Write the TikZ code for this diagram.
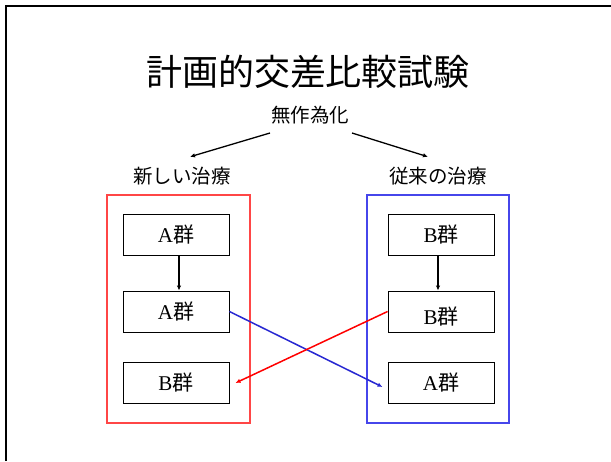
\documentclass[tikz,border=0pt]{standalone}
\usepackage{fontspec}
\setmainfont{Liberation Serif}
\newfontfamily\jp{Noto Sans CJK JP}
\usetikzlibrary{arrows.meta}
\definecolor{boxred}{RGB}{255,70,70}
\definecolor{boxblue}{RGB}{70,70,235}
\definecolor{arrblue}{RGB}{40,40,210}
\tikzset{
  grp/.style={draw=black, line width=0.9pt, minimum width=106pt, minimum height=41pt, inner sep=0pt, font=\fontsize{21}{21}\selectfont},
  outer/.style={line width=1.1pt},
  lbl/.style={font=\jp\fontsize{19.5}{20}\selectfont, inner sep=0pt},
  arr/.style={line width=1.3pt, -{Latex[length=5pt,width=4.5pt]}},
}
\begin{document}
\begin{tikzpicture}[x=1pt,y=-1pt]
\useasboundingbox (0,0) rectangle (611,461);
\fill[white] (0,0) rectangle (611,461);
% slide frame
\draw[line width=2.2pt] (6,461) -- (6,6) -- (611,6);
% title
\node[font=\jp\fontsize{36}{36}\selectfont, inner sep=0pt] (title) at (308,72) {計画的交差比較試験};
\node[lbl] (rand) at (310,115) {無作為化};
\node[lbl] (newt) at (182,176) {新しい治療};
\node[lbl] (oldt) at (438,176) {従来の治療};
% outer boxes
\draw[outer, draw=boxred] (107,195) rectangle (250,423);
\draw[outer, draw=boxblue] (367,195) rectangle (509,423);
% group boxes
\node[grp] (la) at (176,234.5) {A{\jp 群}};
\node[grp] (lb) at (176,311.5) {A{\jp 群}};
\node[grp] (lc) at (176,383) {B{\jp 群}};
\node[grp] (ra) at (441,234.5) {B{\jp 群}};
\node[grp, text height=7pt, text depth=0pt] (rb) at (441,311.5) {\raisebox{-9.5pt}[0pt][0pt]{B{\jp 群}}};
\node[grp] (rc) at (441,383) {A{\jp 群}};
% top arrows
\coordinate (s1) at (270,133);
\coordinate (s2) at (352,133);
\draw[arr] (s1) -- ([shift={(8,-10)}]newt.north);
\draw[arr] (s2) -- ([shift={(-10,-10)}]oldt.north);
% vertical arrows
\draw[arr, line width=1.2pt] ([xshift=3pt]la.south) -- ([xshift=3pt]lb.north);
\draw[arr, line width=1.2pt] ([xshift=-3pt]ra.south) -- ([xshift=-3pt]rb.north);
% crossing arrows
\draw[arr, line width=1.5pt, draw=arrblue, fill=arrblue] (lb.east) -- ([shift={(-5,4)}]rc.west);
\draw[arr, line width=1.5pt, draw=red, fill=red] (rb.west) -- ([shift={(6,0)}]lc.east);
\end{tikzpicture}
\end{document}
